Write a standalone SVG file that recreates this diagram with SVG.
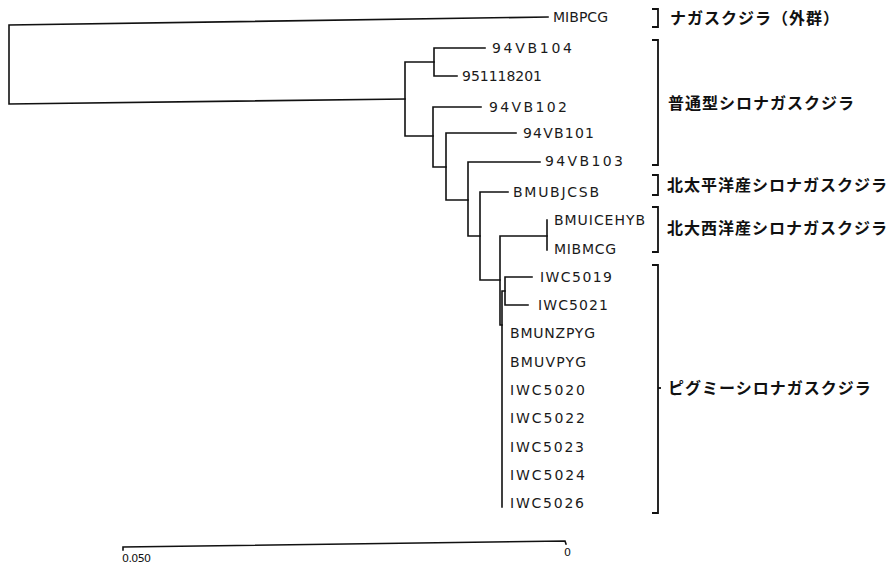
<svg xmlns="http://www.w3.org/2000/svg" width="888" height="567" viewBox="0 0 888 567">
<style>
.e{fill:none;stroke:#111;stroke-width:1.6;stroke-linecap:square}
.b{fill:none;stroke:#111;stroke-width:1.8}
.t{font-family:"DejaVu Sans","Liberation Sans",sans-serif;font-size:14px;fill:#1a1a1a}
.j{font-family:"Noto Sans CJK JP","Noto Sans",sans-serif;font-size:16px;font-weight:700;fill:#111;letter-spacing:1px}
.s{font-family:"DejaVu Sans","Liberation Sans",sans-serif;font-size:11px;fill:#111}
</style>
<rect width="888" height="567" fill="#fff"/>
<g id="connectors">
<path class="e" d="M548,17 L9,25 L9,104 L405,99"/>
<path class="e" d="M434,62 L405,62 L405,136 L433,136"/>
<path class="e" d="M485,48 L434,48 L434,76 L457,76"/>
<path class="e" d="M481,107 L433,107 L433,167 L446,167"/>
<path class="e" d="M516,133 L446,133 L446,200 L468,200"/>
<path class="e" d="M540,162 L468,162 L468,236 L480,236"/>
<path class="e" d="M508,192 L480,192 L480,280 L500,280"/>
<path class="e" d="M547,236 L500,236 L500,325 L502,325"/>
<path class="e" d="M547,220 L547,250"/>
<path class="e" d="M505,291 L502,291 L502,507"/>
<path class="e" d="M532,277 L505,277 L505,305 L528,305"/>
</g>
<g id="MIBPCG"><text class="t" x="553" y="22" textLength="55" lengthAdjust="spacing">MIBPCG</text></g>
<g id="n94VB104"><text class="t" x="492" y="53" textLength="80" lengthAdjust="spacing">94VB104</text></g>
<g id="n951118201"><text class="t" x="462" y="81" textLength="80" lengthAdjust="spacing">951118201</text></g>
<g id="n94VB102"><text class="t" x="489" y="112" textLength="78" lengthAdjust="spacing">94VB102</text></g>
<g id="n94VB101"><text class="t" x="523" y="138" textLength="71" lengthAdjust="spacing">94VB101</text></g>
<g id="n94VB103"><text class="t" x="545" y="166" textLength="78" lengthAdjust="spacing">94VB103</text></g>
<g id="BMUBJCSB"><text class="t" x="513" y="197" textLength="86" lengthAdjust="spacing">BMUBJCSB</text></g>
<g id="BMUICEHYB"><text class="t" x="554" y="225" textLength="91" lengthAdjust="spacing">BMUICEHYB</text></g>
<g id="MIBMCG"><text class="t" x="554" y="254" textLength="62" lengthAdjust="spacing">MIBMCG</text></g>
<g id="IWC5019"><text class="t" x="540" y="282" textLength="72" lengthAdjust="spacing">IWC5019</text></g>
<g id="IWC5021"><text class="t" x="538" y="310" textLength="70" lengthAdjust="spacing">IWC5021</text></g>
<g id="BMUNZPYG"><text class="t" x="510" y="338" textLength="85" lengthAdjust="spacing">BMUNZPYG</text></g>
<g id="BMUVPYG"><text class="t" x="510" y="367" textLength="76" lengthAdjust="spacing">BMUVPYG</text></g>
<g id="IWC5020"><text class="t" x="510" y="395" textLength="75" lengthAdjust="spacing">IWC5020</text></g>
<g id="IWC5022"><text class="t" x="510" y="423" textLength="75" lengthAdjust="spacing">IWC5022</text></g>
<g id="IWC5023"><text class="t" x="510" y="452" textLength="74" lengthAdjust="spacing">IWC5023</text></g>
<g id="IWC5024"><text class="t" x="510" y="480" textLength="75" lengthAdjust="spacing">IWC5024</text></g>
<g id="IWC5026"><text class="t" x="510" y="508" textLength="74" lengthAdjust="spacing">IWC5026</text></g>
<g id="group-outgroup"><path class="b" d="M652,9 L658,9 L658,27 L652,27"/><text class="j" x="670" y="24">ナガスクジラ（外群）</text></g>
<g id="group-common"><path class="b" d="M652,40 L658,40 L658,165 L652,165"/><text class="j" x="668" y="109">普通型シロナガスクジラ</text></g>
<g id="group-npacific"><path class="b" d="M652,175 L658,175 L658,195 L652,195"/><text class="j" x="667" y="191">北太平洋産シロナガスクジラ</text></g>
<g id="group-natlantic"><path class="b" d="M652,207 L658,207 L658,252 L652,252"/><text class="j" x="667" y="234">北大西洋産シロナガスクジラ</text></g>
<g id="group-pygmy"><path class="b" d="M652,265 L658,265 L658,513 L652,513"/><path class="b" d="M658,388 L661,388"/><text class="j" x="668" y="394">ピグミーシロナガスクジラ</text></g>
<g id="scale">
<path class="e" d="M123,550 L123,547 L565,541 L566,544"/>
<text class="s" x="122" y="562" textLength="29" lengthAdjust="spacing">0.050</text>
<text class="s" x="564" y="556">0</text>
</g>
</svg>
